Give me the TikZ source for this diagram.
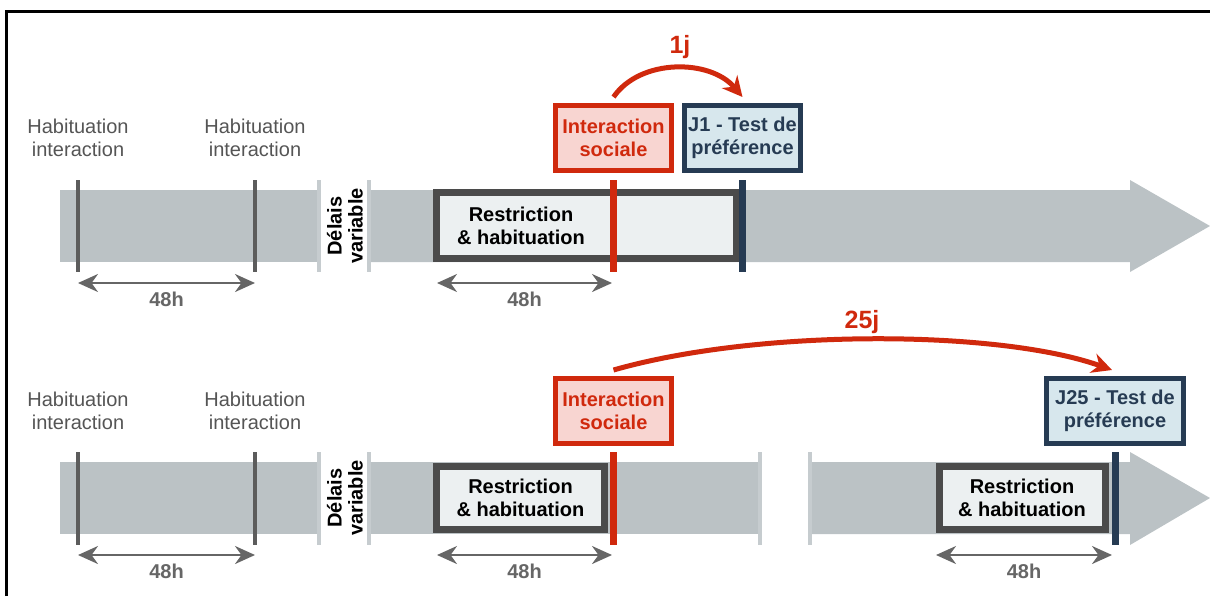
\documentclass[tikz,border=0pt]{standalone}
\usepackage{fontspec}
\setmainfont{Liberation Sans}
\usetikzlibrary{arrows.meta}
\definecolor{bandgray}{HTML}{BBC2C5}
\definecolor{sepgray}{HTML}{C6CCCF}
\definecolor{tickdark}{HTML}{5C5C5C}
\definecolor{boxgray}{HTML}{4B4B4B}
\definecolor{boxfill}{HTML}{ECF0F1}
\definecolor{socred}{HTML}{D0290D}
\definecolor{socfill}{HTML}{F8D5D1}
\definecolor{navy}{HTML}{263B53}
\definecolor{testfill}{HTML}{D7E7ED}
\definecolor{habgray}{HTML}{555555}
\definecolor{durgray}{HTML}{666666}
\begin{document}
\begin{tikzpicture}[x=0.5pt,y=-0.5pt,
    sep/.style={draw=sepgray, line width=2pt},
    habtick/.style={draw=tickdark, line width=2pt},
    soctick/.style={draw=socred, line width=3.5pt},
    testtick/.style={draw=navy, line width=3.5pt},
    restrbox/.style={draw=boxgray, fill=boxfill, line width=3.5pt, inner sep=0pt,
      align=center, font=\bfseries\fontsize{10}{11.5}\selectfont, text=black},
    boldtxt/.style={align=center, font=\bfseries\fontsize{10}{11.5}\selectfont},
    socbox/.style={draw=socred, fill=socfill, line width=2.5pt, text=socred,
      minimum width=58pt, minimum height=32.5pt, inner sep=0pt,
      align=center, font=\bfseries\fontsize{10}{11.5}\selectfont},
    testbox/.style={draw=navy, fill=testfill, line width=2.5pt, text=navy,
      minimum width=58pt, minimum height=32.5pt, inner sep=0pt,
      align=center, font=\bfseries\fontsize{10}{11.5}\selectfont},
    habtxt/.style={text=habgray, align=center, font=\fontsize{10}{11.5}\selectfont},
    delay/.style={rotate=90, align=center, font=\bfseries\fontsize{10}{10.5}\selectfont},
    dur/.style={draw=durgray, line width=1.2pt,
      {Stealth[length=10pt,width=9pt]}-{Stealth[length=10pt,width=9pt]}},
    durlbl/.style={text=durgray, inner sep=0pt, font=\bfseries\fontsize{10}{12}\selectfont},
    jump/.style={draw=socred, line width=2.5pt, -{Stealth[length=10pt,width=10pt]}},
    jumplbl/.style={text=socred, font=\bfseries\fontsize{12.5}{14}\selectfont}]
  \useasboundingbox (0,0) rectangle (1210,596);
  \draw[line width=1.5pt] (6,596) -- (6,11) -- (1210,11);

  % ligne du haut : J1
  \fill[bandgray] (60,190) rectangle (318,262);
  \fill[bandgray] (370,190) -- (1130,190) -- (1130,180) -- (1210,226)
    -- (1130,272) -- (1130,262) -- (370,262) -- cycle;
  \draw[sep] (319,180) -- (319,272);
  \draw[sep] (369,180) -- (369,272);
  \draw[habtick] (78,180) -- (78,272);
  \draw[habtick] (255,180) -- (255,272);
  \node[habtxt] (hab1) at (78,138) {Habituation\\interaction};
  \node[habtxt] (hab2) at (255,138) {Habituation\\interaction};
  \node[delay] (del1) at (345,226) {Délais\\variable};
  \node[restrbox, minimum width=150pt, minimum height=33pt] (rb1) at (586.5,225.5) {};
  \node[boldtxt] (rt1) at (521,226) {Restriction\\\& habituation};
  \draw[soctick] (613,180) -- (613,272);
  \draw[testtick] (742,180) -- (742,272);
  \node[socbox] (soc1) at (613.5,138) {Interaction\\sociale};
  \node[testbox] (test1) at (742.5,138) {J1 - Test de\\préférence};
  \draw[jump] ([yshift=3pt]soc1.north) .. controls +(27,-39) and +(-32,-38)
    .. ([yshift=3pt]test1.north);
  \node[jumplbl] (j1) at (680,47) {1j};
  \coordinate (a1) at (78,283);
  \coordinate (a2) at (255,283);
  \coordinate (a3) at (437,283);
  \coordinate (a4) at (612,283);
  \draw[dur] (a1) -- node[durlbl, below=4pt] (d1) {48h} (a2);
  \draw[dur] (a3) -- node[durlbl, below=4pt] (d2) {48h} (a4);

  % ligne du bas : J25
  \fill[bandgray] (60,462) rectangle (318,534);
  \fill[bandgray] (370,462) rectangle (760,534);
  \fill[bandgray] (810,462) -- (1130,462) -- (1130,452) -- (1210,498)
    -- (1130,545) -- (1130,534) -- (810,534) -- cycle;
  \draw[sep] (319,452) -- (319,545);
  \draw[sep] (369,452) -- (369,545);
  \draw[sep] (760,452) -- (760,545);
  \draw[sep] (810,452) -- (810,545);
  \draw[habtick] (78,452) -- (78,545);
  \draw[habtick] (255,452) -- (255,545);
  \node[habtxt] (hab3) at (78,411) {Habituation\\interaction};
  \node[habtxt] (hab4) at (255,411) {Habituation\\interaction};
  \node[delay] (del2) at (345,498) {Délais\\variable};
  \node[restrbox, minimum width=84pt, minimum height=31.5pt] (rb2) at (520.5,498) {Restriction\\\& habituation};
  \node[restrbox, minimum width=83pt, minimum height=31.5pt] (rb3) at (1022,498) {Restriction\\\& habituation};
  \draw[soctick] (613,452) -- (613,545);
  \draw[testtick] (1115,452) -- (1115,545);
  \node[socbox] (soc2) at (613.5,411) {Interaction\\sociale};
  \node[testbox, minimum width=68.5pt] (test25) at (1115,411) {J25 - Test de\\préférence};
  \draw[jump] ([yshift=3pt]soc2.north) .. controls +(147,-42) and +(-112,-40)
    .. ([xshift=-1.5pt,yshift=3pt]test25.north);
  \node[jumplbl] (j25) at (862,322) {25j};
  \coordinate (b1) at (78,555);
  \coordinate (b2) at (255,555);
  \coordinate (b3) at (437,555);
  \coordinate (b4) at (612,555);
  \coordinate (b5) at (936,555);
  \coordinate (b6) at (1112,555);
  \draw[dur] (b1) -- node[durlbl, below=4pt] (d3) {48h} (b2);
  \draw[dur] (b3) -- node[durlbl, below=4pt] (d4) {48h} (b4);
  \draw[dur] (b5) -- node[durlbl, below=4pt] (d5) {48h} (b6);
\end{tikzpicture}
\end{document}
